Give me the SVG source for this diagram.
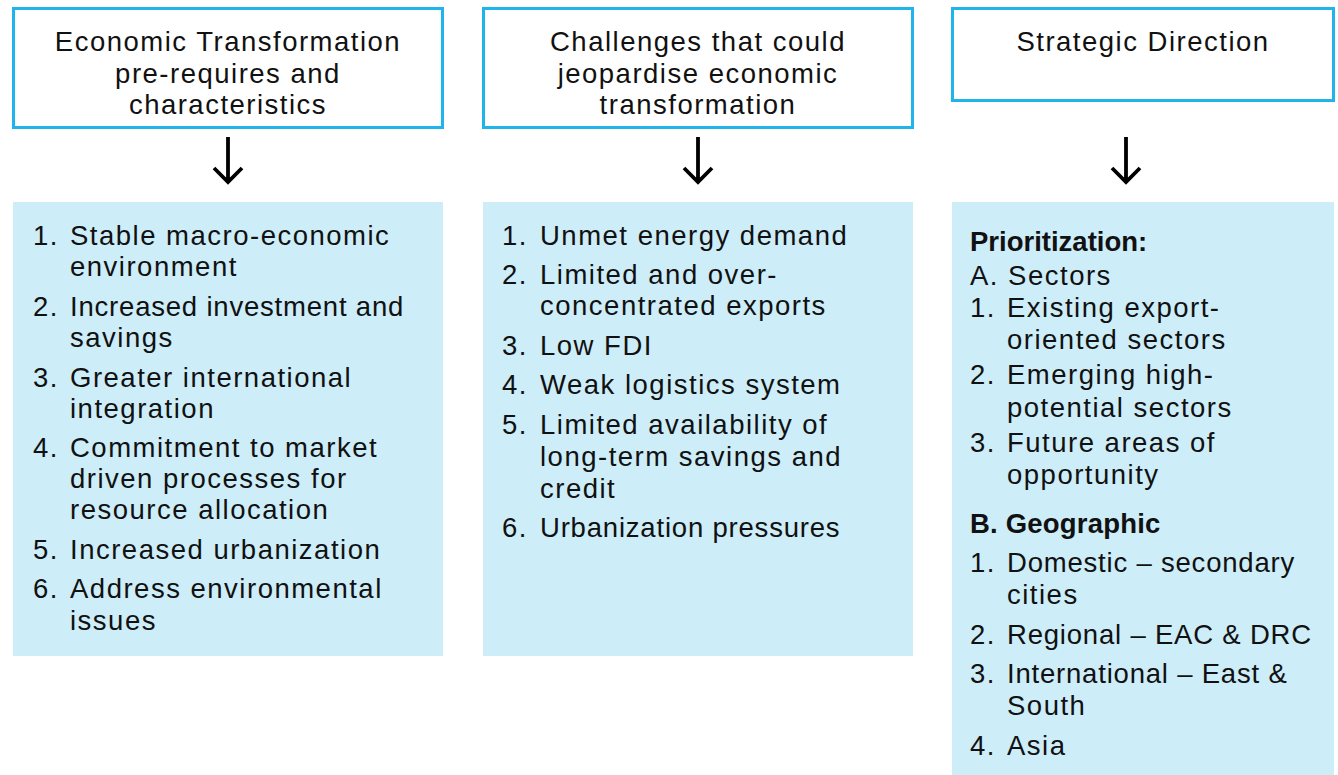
<svg xmlns="http://www.w3.org/2000/svg" width="1338" height="775" viewBox="0 0 1338 775">
<defs>
<style>
.hdr{fill:#ffffff;stroke:#1fb4ec;stroke-width:3}
.body{fill:#cdedf9}
text{font-family:"Liberation Sans",Arial,sans-serif;font-size:27.5px;letter-spacing:1.5px;fill:#111111}
.c{text-anchor:middle}
.n{letter-spacing:0.8px}
.b{font-weight:700;letter-spacing:0}
.b2{font-weight:700;letter-spacing:0.2px}
.arr{stroke:#000;stroke-width:3.8;fill:none}
</style>
</defs>
<rect width="1338" height="775" fill="#ffffff"/>
<g id="header1">
<rect class="hdr" x="13.5" y="8.5" width="429" height="119"/>
<text class="c" x="228" y="51">Economic Transformation</text>
<text class="c" x="228" y="83">pre-requires and</text>
<text class="c" x="228" y="114">characteristics</text>
</g>
<g id="header2">
<rect class="hdr" x="483.5" y="8.5" width="429" height="119"/>
<text class="c" x="698" y="51">Challenges that could</text>
<text class="c" x="698" y="83">jeopardise economic</text>
<text class="c" x="698" y="114">transformation</text>
</g>
<g id="header3">
<rect class="hdr" x="952.5" y="8.5" width="381" height="92"/>
<text class="c" x="1143" y="51">Strategic Direction</text>
</g>
<g id="connectors">
<path class="arr" d="M228 137V182M214 168L228 182L242 168"/>
<path class="arr" d="M698 137V182M684 168L698 182L712 168"/>
<path class="arr" d="M1126 137V182M1112 168L1126 182L1140 168"/>
</g>
<g id="list1">
<rect class="body" x="13" y="202" width="430" height="454"/>
<text x="33" y="245">1.</text><text x="70" y="245">Stable macro-economic</text>
<text x="70" y="276">environment</text>
<text x="33" y="316">2.</text><text class="n" x="70" y="316">Increased investment and</text>
<text x="70" y="347">savings</text>
<text x="33" y="387">3.</text><text x="70" y="387">Greater international</text>
<text x="70" y="418">integration</text>
<text x="33" y="457">4.</text><text x="70" y="457">Commitment to market</text>
<text x="70" y="488">driven processes for</text>
<text x="70" y="519">resource allocation</text>
<text x="33" y="559">5.</text><text x="70" y="559">Increased urbanization</text>
<text x="33" y="598">6.</text><text x="70" y="598">Address environmental</text>
<text x="70" y="630">issues</text>
</g>
<g id="list2">
<rect class="body" x="483" y="202" width="430" height="454"/>
<text x="502" y="245">1.</text><text x="540" y="245">Unmet energy demand</text>
<text x="502" y="284">2.</text><text x="540" y="284">Limited and over-</text>
<text x="540" y="315">concentrated exports</text>
<text x="502" y="355">3.</text><text x="540" y="355">Low FDI</text>
<text x="502" y="394">4.</text><text x="540" y="394">Weak logistics system</text>
<text x="502" y="434">5.</text><text x="540" y="434">Limited availability of</text>
<text x="540" y="466">long-term savings and</text>
<text x="540" y="498">credit</text>
<text x="502" y="537">6.</text><text class="n" x="540" y="537">Urbanization pressures</text>
</g>
<g id="list3">
<rect class="body" x="952" y="202" width="382" height="573"/>
<text class="b" x="970" y="251">Prioritization:</text>
<text x="970" y="285">A. Sectors</text>
<text x="970" y="317">1.</text><text x="1007" y="317">Existing export-</text>
<text x="1007" y="349">oriented sectors</text>
<text x="970" y="384">2.</text><text x="1007" y="384">Emerging high-</text>
<text x="1007" y="417">potential sectors</text>
<text x="970" y="452">3.</text><text x="1007" y="452">Future areas of</text>
<text x="1007" y="484">opportunity</text>
<text class="b2" x="970" y="533">B. Geographic</text>
<text x="970" y="572">1.</text><text class="n" x="1007" y="572">Domestic – secondary</text>
<text x="1007" y="604">cities</text>
<text x="970" y="644">2.</text><text class="n" x="1007" y="644">Regional – EAC &amp; DRC</text>
<text x="970" y="683">3.</text><text class="n" x="1007" y="683">International – East &amp;</text>
<text x="1007" y="715">South</text>
<text x="970" y="755">4.</text><text x="1007" y="755">Asia</text>
</g>
</svg>
